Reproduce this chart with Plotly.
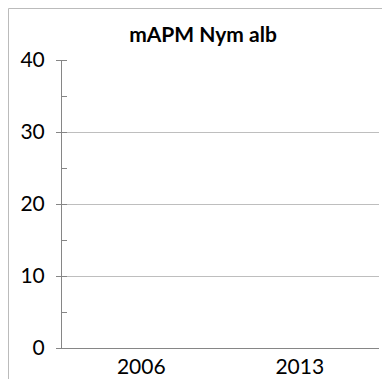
import plotly.graph_objects as go

categories = ["2006", "2013"]
values = [0, 0]
title_text = "mAPM Nym alb"
y_ticks = [0, 10, 20, 30, 40]

OFF = 8  # default body margin of the html page
W, H = 390 - OFF, 379 - OFF
# plot area in page pixels: x 62..379, y 60..348
L = 62 - OFF
T = 60 - OFF
R = W - (379 - OFF)
B = H - (348 - OFF)
pw, ph = W - L - R, H - T - B

fig = go.Figure()
fig.add_trace(go.Bar(x=categories, y=values, marker=dict(color="#4F81BD", line=dict(width=0))))

def px_x(p):
    return (p - OFF - L) / pw

def px_y(p):
    return (H - B - (p - OFF)) / ph

fig.update_layout(
    width=W, height=H,
    margin=dict(l=L, r=R, t=T, b=B, autoexpand=False),
    paper_bgcolor="white", plot_bgcolor="white",
    showlegend=False,
    font=dict(family="Lato", color="black"),
    title=dict(text="<b>" + title_text + "</b>", x=px_x(203), xref="paper", xanchor="center",
               y=1 - (35 - OFF) / H, yref="container", yanchor="middle",
               font=dict(size=21, family="Lato", color="black")),
    xaxis=dict(showline=True, linecolor="#868686", linewidth=1, ticks="", showgrid=False,
               automargin=False,
               tickfont=dict(size=21, family="Lato"), ticklabelstandoff=0),
    yaxis=dict(range=[0, 40], tickvals=y_ticks, showline=True, linecolor="#868686", linewidth=1,
               automargin=False,
               ticks="outside", ticklen=5, tickcolor="#868686", showgrid=True, gridcolor="#BEBEBE",
               gridwidth=1, zeroline=False, tickfont=dict(size=21, family="Lato"),
               ticklabelstandoff=7,
               minor=dict(dtick=5, ticks="inside", ticklen=5, tickcolor="#868686", showgrid=False)),
    shapes=[dict(type="rect", xref="paper", yref="paper",
                 x0=px_x(8.5), x1=px_x(400), y0=px_y(400), y1=px_y(8.5),
                 line=dict(color="#BBBBBB", width=1), fillcolor="rgba(0,0,0,0)", layer="below")],
)

fig.write_html("out.html")
